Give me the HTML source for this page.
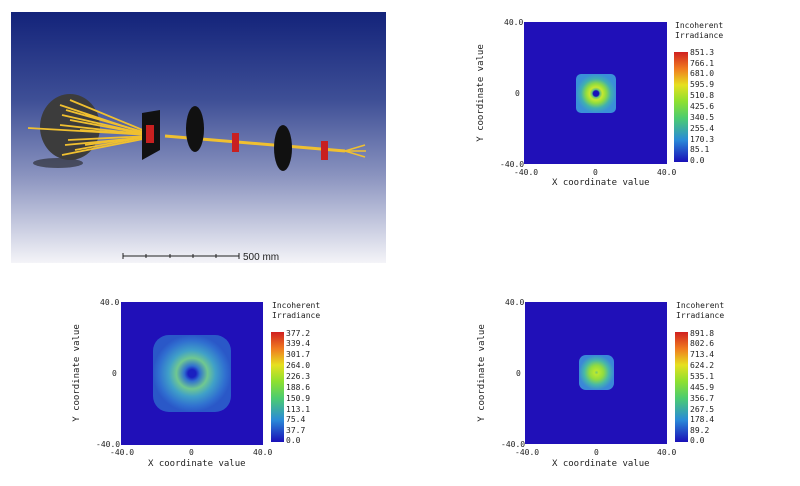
<!DOCTYPE html>
<html><head><meta charset="utf-8"><style>
html,body{margin:0;padding:0;background:#fff;width:800px;height:486px;overflow:hidden}
text{font-family:"DejaVu Sans Mono","Liberation Mono",monospace;font-size:8px;fill:#222}
</style></head><body>
<svg width="800" height="486" viewBox="0 0 800 486" xmlns="http://www.w3.org/2000/svg">
<defs>
<linearGradient id="bg" x1="0" y1="0" x2="0" y2="1">
<stop offset="0" stop-color="#13237a"/><stop offset="0.35" stop-color="#3e4f96"/><stop offset="0.65" stop-color="#8a93bf"/><stop offset="1" stop-color="#f4f4f8"/>
</linearGradient>
<linearGradient id="cb" x1="0" y1="1" x2="0" y2="0">
<stop offset="0" stop-color="#1a10b8"/><stop offset="0.2" stop-color="#2a8ad8"/><stop offset="0.4" stop-color="#4ccc70"/><stop offset="0.55" stop-color="#8ee030"/><stop offset="0.7" stop-color="#e6e020"/><stop offset="0.85" stop-color="#f07a20"/><stop offset="1" stop-color="#d02020"/>
</linearGradient>
<radialGradient id="r1"><stop offset="0.14" stop-color="#1a10b8"/><stop offset="0.2" stop-color="#60c080"/><stop offset="0.32" stop-color="#c8e830"/><stop offset="0.5" stop-color="#90dc40"/><stop offset="0.75" stop-color="#40b0b0"/><stop offset="1" stop-color="#3a90d8"/></radialGradient>
<radialGradient id="r2"><stop offset="0.1" stop-color="#1a20c0"/><stop offset="0.2" stop-color="#3070d0"/><stop offset="0.4" stop-color="#70c890"/><stop offset="0.6" stop-color="#40a0c8"/><stop offset="0.85" stop-color="#3070d0"/><stop offset="1" stop-color="#2a58c8"/></radialGradient>
<radialGradient id="r3"><stop offset="0" stop-color="#70c870"/><stop offset="0.12" stop-color="#b8e830"/><stop offset="0.4" stop-color="#90dc40"/><stop offset="0.7" stop-color="#48b8a8"/><stop offset="1" stop-color="#3a88d8"/></radialGradient>
</defs>
<!-- 3D view -->
<rect x="11" y="12" width="375" height="251" fill="url(#bg)"/>
<ellipse cx="58" cy="163" rx="25" ry="5" fill="#222" opacity="0.6"/>
<ellipse cx="70" cy="127" rx="30" ry="33" fill="#3c3c3c"/>
<g stroke="#f0c030" stroke-width="1.8">
<line x1="60" y1="105" x2="150" y2="135"/><line x1="62" y1="115" x2="150" y2="135"/><line x1="60" y1="125" x2="150" y2="135"/><line x1="65" y1="145" x2="150" y2="137"/><line x1="70" y1="100" x2="150" y2="133"/><line x1="62" y1="155" x2="148" y2="138"/><line x1="28" y1="128" x2="150" y2="135"/><line x1="70" y1="120" x2="150" y2="135"/><line x1="75" y1="150" x2="150" y2="136"/><line x1="66" y1="110" x2="150" y2="134"/><line x1="68" y1="140" x2="150" y2="136"/><line x1="80" y1="130" x2="150" y2="135"/><line x1="85" y1="115" x2="150" y2="134"/><line x1="85" y1="145" x2="150" y2="136"/>
</g>
<g stroke="#f0c030" stroke-width="3"><line x1="165" y1="136" x2="345" y2="151"/></g>
<g stroke="#f0c030" stroke-width="1.5"><line x1="345" y1="151" x2="365" y2="145"/><line x1="345" y1="151" x2="365" y2="157"/><line x1="345" y1="151" x2="366" y2="151"/></g>
<polygon points="142,113 160,110 160,150 142,160" fill="#111"/>
<rect x="146" y="125" width="8" height="18" fill="#c82020"/>
<ellipse cx="195" cy="129" rx="9" ry="23" fill="#111"/>
<rect x="232" y="133" width="7" height="19" fill="#c82020"/>
<ellipse cx="283" cy="148" rx="9" ry="23" fill="#111"/>
<rect x="321" y="141" width="7" height="19" fill="#c82020"/>
<line x1="123" y1="256" x2="239" y2="256" stroke="#222"/>
<g stroke="#222"><line x1="123" y1="253" x2="123" y2="259"/><line x1="239" y1="253" x2="239" y2="259"/><line x1="146" y1="254" x2="146" y2="258"/><line x1="170" y1="254" x2="170" y2="258"/><line x1="193" y1="254" x2="193" y2="258"/><line x1="216" y1="254" x2="216" y2="258"/></g>
<text x="243" y="260" style="font-family:'Liberation Sans',sans-serif;font-size:10px">500 mm</text>

<!-- plot TR -->
<rect x="524" y="22" width="143" height="142" fill="#2010b8"/>
<rect x="576" y="74" width="40" height="39" rx="5" fill="url(#r1)"/>
<rect x="674" y="52" width="14" height="110" fill="url(#cb)"/>
<text x="675" y="28">Incoherent</text><text x="675" y="38">Irradiance</text>
<g><text x="690" y="55">851.3</text><text x="690" y="66">766.1</text><text x="690" y="76">681.0</text><text x="690" y="87">595.9</text><text x="690" y="98">510.8</text><text x="690" y="109">425.6</text><text x="690" y="120">340.5</text><text x="690" y="131">255.4</text><text x="690" y="142">170.3</text><text x="690" y="152">85.1</text><text x="690" y="163">0.0</text></g>
<text x="504" y="25">40.0</text><text x="515" y="96">0</text><text x="500" y="167">-40.0</text>
<text x="514" y="175">-40.0</text><text x="593" y="175">0</text><text x="657" y="175">40.0</text>
<text x="552" y="185" style="font-size:9px">X coordinate value</text>
<text transform="translate(483,93) rotate(-90)" text-anchor="middle" style="font-size:9px">Y coordinate value</text>

<!-- plot BL -->
<rect x="121" y="302" width="142" height="143" fill="#2010b8"/>
<rect x="153" y="335" width="78" height="77" rx="16" fill="url(#r2)"/>
<rect x="271" y="332" width="13" height="110" fill="url(#cb)"/>
<text x="272" y="308">Incoherent</text><text x="272" y="318">Irradiance</text>
<g><text x="286" y="336">377.2</text><text x="286" y="346">339.4</text><text x="286" y="357">301.7</text><text x="286" y="368">264.0</text><text x="286" y="379">226.3</text><text x="286" y="390">188.6</text><text x="286" y="401">150.9</text><text x="286" y="412">113.1</text><text x="286" y="422">75.4</text><text x="286" y="433">37.7</text><text x="286" y="443">0.0</text></g>
<text x="100" y="305">40.0</text><text x="112" y="376">0</text><text x="96" y="447">-40.0</text>
<text x="110" y="455">-40.0</text><text x="189" y="455">0</text><text x="253" y="455">40.0</text>
<text x="148" y="466" style="font-size:9px">X coordinate value</text>
<text transform="translate(79,373) rotate(-90)" text-anchor="middle" style="font-size:9px">Y coordinate value</text>

<!-- plot BR -->
<rect x="525" y="302" width="142" height="142" fill="#2010b8"/>
<rect x="579" y="355" width="35" height="35" rx="7" fill="url(#r3)"/>
<rect x="675" y="332" width="13" height="110" fill="url(#cb)"/>
<text x="676" y="308">Incoherent</text><text x="676" y="318">Irradiance</text>
<g><text x="690" y="336">891.8</text><text x="690" y="346">802.6</text><text x="690" y="357">713.4</text><text x="690" y="368">624.2</text><text x="690" y="379">535.1</text><text x="690" y="390">445.9</text><text x="690" y="401">356.7</text><text x="690" y="412">267.5</text><text x="690" y="422">178.4</text><text x="690" y="433">89.2</text><text x="690" y="443">0.0</text></g>
<text x="505" y="305">40.0</text><text x="516" y="376">0</text><text x="501" y="447">-40.0</text>
<text x="515" y="455">-40.0</text><text x="594" y="455">0</text><text x="657" y="455">40.0</text>
<text x="552" y="466" style="font-size:9px">X coordinate value</text>
<text transform="translate(484,373) rotate(-90)" text-anchor="middle" style="font-size:9px">Y coordinate value</text>
</svg>
</body></html>
